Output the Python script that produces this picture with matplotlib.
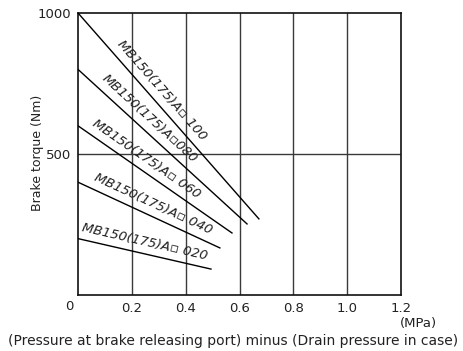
import matplotlib.pyplot as plt
import numpy as np

# Brake torque vs. releasing pressure, one straight line per brake size
labels = ['MB150(175)A\u25ab 100', 'MB150(175)A\u25ab080', 'MB150(175)A\u25ab 060',
          'MB150(175)A\u25ab 040', 'MB150(175)A\u25ab 020']
start_torque = [1000, 800, 600, 400, 200]       # Nm at 0 MPa
end_pressure = [0.672, 0.628, 0.572, 0.527, 0.494]  # MPa
end_torque = [270, 252, 220, 167, 92]            # Nm
label_pos = [0.12, 0.066, 0.034, 0.045, 0.005]   # where each label starts (MPa)

x_ticks = [0.2, 0.4, 0.6, 0.8, 1.0, 1.2]
x_tick_labels = ['0.2', '0.4', '0.6', '0.8', '1.0', '1.2']
y_ticks = [500, 1000]

plt.rcParams['font.family'] = 'DejaVu Sans'

fig = plt.figure(figsize=(4.63, 3.51), dpi=100)
ax = fig.add_axes([0.1685, 0.1595, 0.6976, 0.8035])
ax.set_xlim(0, 1.2)
ax.set_ylim(0, 1000)

ax.set_xticks(x_ticks)
ax.set_xticklabels(x_tick_labels)
ax.set_yticks(y_ticks)
ax.tick_params(length=0, labelsize=9.5, pad=5, colors='#222')
for s in ax.spines.values():
    s.set_linewidth(1.2)
    s.set_color('#111')

# grid: vertical every 0.2, horizontal only at 500
for xv in x_ticks[:-1]:
    ax.axvline(xv, color='#3a3a3a', lw=1.0, zorder=1)
ax.axhline(500, color='#3a3a3a', lw=1.0, zorder=1)

fig.canvas.draw()
for lab, t0, p1, t1, lp in zip(labels, start_torque, end_pressure, end_torque, label_pos):
    ax.plot([0, p1], [t0, t1], color='black', lw=1.0, zorder=3)
    # screen angle of the line
    a = ax.transData.transform((0, t0))
    b = ax.transData.transform((p1, t1))
    ang = np.degrees(np.arctan2(b[1] - a[1], b[0] - a[0]))
    ty = t0 + (t1 - t0) * lp / p1
    th = np.radians(ang)
    off = 8.5  # points, perpendicular to the line
    ax.annotate(lab, (lp, ty), xytext=(-off * np.sin(th), off * np.cos(th)),
                textcoords='offset points', rotation=ang, rotation_mode='anchor',
                ha='left', va='center', fontsize=9.5, style='italic', color='#222')

fig.text(69 / 463, 1 - 307 / 351, '0', ha='center', va='center', fontsize=9.5, color='#222')
fig.text(418 / 463, 1 - 324 / 351, '(MPa)', ha='center', va='center', fontsize=9.5, color='#222')
fig.text(233 / 463, 1 - 341 / 351, '(Pressure at brake releasing port) minus (Drain pressure in case)',
         ha='center', va='center', fontsize=10, color='#222')
fig.text(37 / 463, 1 - 153 / 351, 'Brake torque (Nm)', rotation=90,
         ha='center', va='center', fontsize=9, color='#222')

fig.savefig('out.png', dpi=100)
